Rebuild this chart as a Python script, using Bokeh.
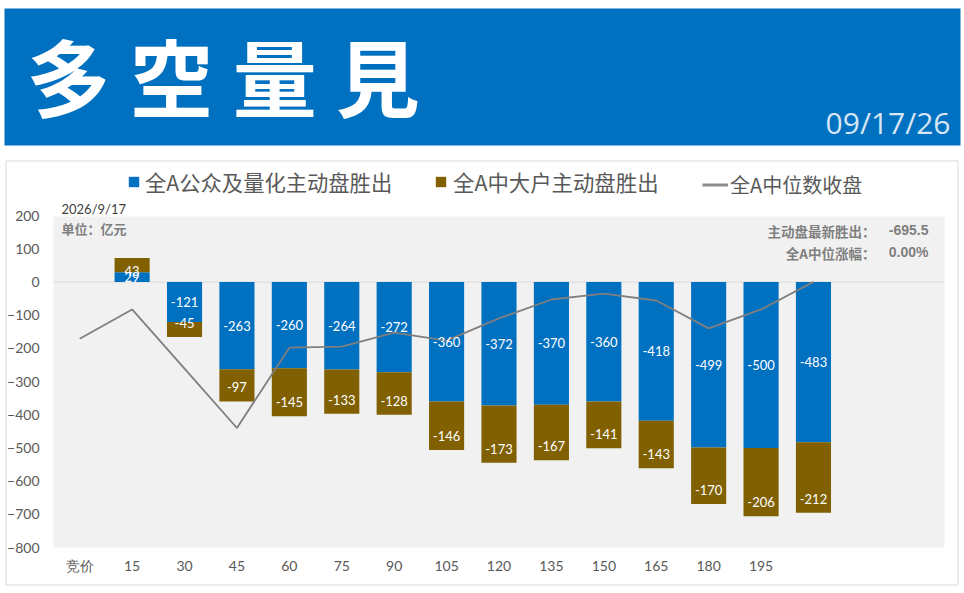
from bokeh.plotting import figure
from bokeh.core.properties import value
from bokeh.models import ColumnDataSource, Range1d, FactorRange, Legend, LegendItem
from bokeh.embed import file_html
from bokeh.resources import INLINE

categories = ["竞价", "15", "30", "45", "60", "75", "90", "105", "120", "135", "150", "165", "180", "195", " ", "  ", "   "]
public_quant = [None, 29, -121, -263, -260, -264, -272, -360, -372, -370, -360, -418, -499, -500, -483, None, None]
large_holders = [None, 43, -45, -97, -145, -133, -128, -146, -173, -167, -141, -143, -170, -206, -212, None, None]
median_close = [-171, -83, -261, -440, -198, -195, -153, -177, -110, -53, -35, -56, -140, -83, 0, None, None]
y_ticks = [200, 100, 0, -100, -200, -300, -400, -500, -600, -700, -800]

W, H = 964, 593
L, R, T, B = 53, 944, 216, 547
GREY = "#595959"
CJK = "Noto Sans CJK SC"
ABS = {"position": "absolute", "left": "0px", "top": "0px"}

cats = [c for c, a in zip(categories, public_quant) if a is not None]
a = [v for v in public_quant if v is not None]
b = [v for v in large_holders if v is not None]
ends = [x + y for x, y in zip(a, b)]

bars_a = ColumnDataSource(dict(x=cats, bottom=[0] * len(a), top=a, mid=[v / 2 for v in a], label=[str(v) for v in a]))
bars_b = ColumnDataSource(dict(x=cats, bottom=a, top=ends, label=[str(v) for v in b],
                               off=[13 if e > 0 else -14 for e in ends]))
line_src = ColumnDataSource(dict(x=categories[:15], y=median_close[:15]))

# back figure: page furniture, its frame is the whole canvas and its units are page pixels
bg = figure(width=W, height=H, x_range=Range1d(0, W), y_range=Range1d(H, 0), output_backend="svg", toolbar_location=None,
            min_border=0, x_axis_location=None, y_axis_location=None, outline_line_color=None,
            background_fill_color="#ffffff", border_fill_color="#ffffff", styles=ABS)
bg.grid.visible = False
bg.quad(left=[5.5], right=[957.5], top=[160.5], bottom=[584.5], fill_color="#ffffff", line_color="#d9d9d9", line_width=1)
bg.quad(left=[4], right=[960], top=[8], bottom=[145], fill_color="#0070c0", line_color=None)
bg.quad(left=[L], right=[R], top=[T], bottom=[B], fill_color="#f1f1f1", line_color=None)
bg.segment(x0=[L], x1=[R], y0=[281.5], y1=[281.5], line_color="#d9d9d9", line_width=1)


def txt(x, y, s, size, color=GREY, font=CJK, style="normal", align="left"):
    bg.text(x=[x], y=[y], text=[s], text_font=value(font), text_font_size=f"{size}px", text_color=color,
            text_font_style=style, text_align=align, text_baseline="middle")


txt(26, 74, "多 空 量 見", 84, "#ffffff", "Noto Sans CJK JP", "bold")
txt(950, 122, "09/17/26", 30, "#d6e6f5", "Open Sans", align="right")
txt(61, 208, "2026/9/17", 13, "#404040", "Lato")
txt(61, 228, "单位：亿元", 13, "#7f7f7f", CJK, "bold")
txt(875, 230, "主动盘最新胜出：", 13.5, "#7f7f7f", CJK, "bold", align="right")
txt(928, 229, "-695.5", 14, "#7f7f7f", "Liberation Sans", "bold", align="right")
txt(875, 252, "全A中位涨幅：", 13.5, "#7f7f7f", CJK, "bold", align="right")
txt(928, 251, "0.00%", 14, "#7f7f7f", "Liberation Sans", "bold", align="right")

# off-canvas samples: only their legend swatches are seen
sw_a = bg.vbar(x=[-100], top=[-100], bottom=[-90], width=1, fill_color="#0070c0", line_color=None)
sw_b = bg.vbar(x=[-100], top=[-100], bottom=[-90], width=1, fill_color="#806000", line_color=None)
sw_l = bg.line(x=[-100, -90], y=[-100, -100], line_color="#8c8c8c", line_width=3)


def legend(renderer, label, x, y, gw, gh, standoff, size):
    lg = Legend(items=[LegendItem(label=label, renderers=[renderer])], location=(x, H - y),
                orientation="horizontal", padding=0, margin=0, spacing=0, glyph_width=gw, glyph_height=gh,
                label_standoff=standoff, border_line_color=None, background_fill_alpha=0,
                label_text_font=CJK, label_text_font_size=f"{size}px", label_text_color=GREY, label_height=gh)
    bg.add_layout(lg, "center")


legend(sw_a, "全A公众及量化主动盘胜出", 127, 197, 13, 13, 5, 21.3)
legend(sw_b, "全A中大户主动盘胜出", 434, 197, 13, 13, 6, 21.4)
legend(sw_l, "全A中位数收盘", 702, 199, 26, 13, 2, 20)

# chart figure, transparent, on top
p = figure(width=W, height=H, x_range=FactorRange(factors=categories, range_padding=0),
           y_range=Range1d(-800, 200), output_backend="svg", toolbar_location=None,
           min_border_left=L, min_border_right=W - R, min_border_top=T - 1, min_border_bottom=H - B,
           background_fill_color=None, border_fill_color=None, outline_line_color=None, styles=ABS)
p.grid.visible = False
for ax in (p.xaxis[0], p.yaxis[0]):
    ax.axis_line_color = None
    ax.major_tick_line_color = None
    ax.minor_tick_line_color = None
    ax.major_label_text_color = GREY
    ax.major_label_text_font = "Lato"
    ax.major_label_text_font_size = "14px"
p.yaxis[0].ticker = y_ticks
p.yaxis[0].major_label_standoff = 8
p.xaxis[0].major_label_standoff = 3

p.vbar(x="x", bottom="bottom", top="top", width=0.67, source=bars_a, fill_color="#0070c0", line_color=None)
p.vbar(x="x", bottom="bottom", top="top", width=0.67, source=bars_b, fill_color="#806000", line_color=None)
p.line(x="x", y="y", source=line_src, line_color="#7f7f7f", line_width=1.8)
p.text(x="x", y="mid", text="label", source=bars_a, text_color="#ffffff", text_font=value("Lato"), text_font_size="13px",
       text_align="center", text_baseline="middle")
p.text(x="x", y="top", text="label", source=bars_b, text_color="#ffffff", text_font=value("Lato"), text_font_size="13px",
       text_align="center", text_baseline="middle", y_offset="off")

open("out.html", "w").write(file_html([bg, p], INLINE))
